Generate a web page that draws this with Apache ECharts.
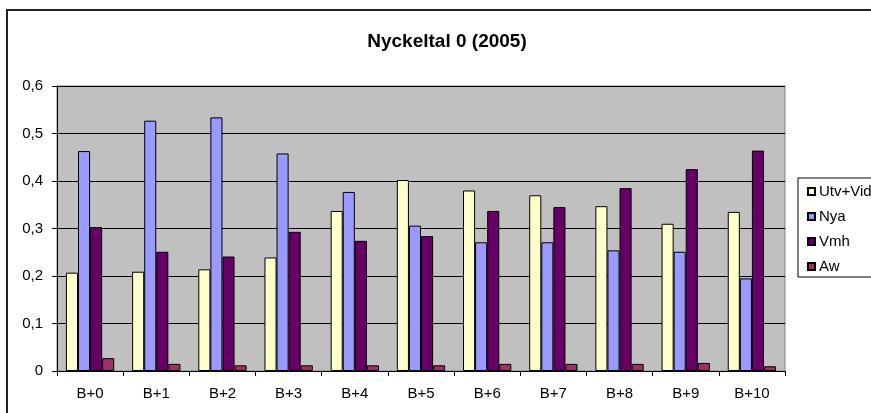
<!DOCTYPE html>
<html>
<head>
<meta charset="utf-8">
<script src="https://cdn.jsdelivr.net/npm/echarts@6/dist/echarts.min.js"></script>
<style>
html,body{margin:0;padding:0;background:#fff;}
#c{width:871px;height:413px;}
</style>
</head>
<body>
<div id="c"></div>
<script>
const title = 'Nyckeltal 0 (2005)';
const categories = ['B+0','B+1','B+2','B+3','B+4','B+5','B+6','B+7','B+8','B+9','B+10'];
const seriesNames = ['Utv+Vid','Nya','Vmh','Aw'];
const utvVid = [0.207,0.209,0.214,0.239,0.337,0.402,0.380,0.370,0.347,0.310,0.335];
const nya    = [0.463,0.527,0.534,0.458,0.377,0.306,0.271,0.271,0.254,0.251,0.195];
const vmh    = [0.303,0.251,0.241,0.293,0.274,0.284,0.337,0.345,0.385,0.425,0.464];
const aw     = [0.027,0.015,0.012,0.012,0.012,0.012,0.015,0.015,0.015,0.017,0.010];
const colors = ['#FFFFCC','#9999FF','#660066','#993366'];
const seriesData = [utvVid, nya, vmh, aw];

const chart = echarts.init(document.getElementById('c'));
const font = 'Liberation Sans, Arial, sans-serif';
chart.setOption({
  animation: false,
  backgroundColor: '#fff',
  textStyle: {fontFamily: font, color: '#000'},
  title: {
    text: title,
    left: 442, top: 27, textAlign: 'center',
    textStyle: {fontFamily: font, fontSize: 19, fontWeight: 'bold', color: '#000'}
  },
  graphic: [{
    type: 'rect', silent: true, z: -1,
    shape: {x: 7, y: 10, width: 1000, height: 1000},
    style: {fill: 'none', stroke: '#222', lineWidth: 2}
  }],
  legend: {
    orient: 'vertical',
    left: 798, top: 178,
    padding: [6, 40, 3, 9],
    borderColor: '#000', borderWidth: 1,
    itemWidth: 7, itemHeight: 7, itemGap: 10,
    icon: 'rect',
    textStyle: {fontFamily: font, fontSize: 15, color: '#000', padding: [0,0,0,-1]},
    data: seriesNames
  },
  grid: {
    left: 57, right: 86, top: 86, bottom: 42,
    show: true, backgroundColor: '#C0C0C0', borderColor: '#808080', borderWidth: 1
  },
  xAxis: {
    type: 'category',
    data: categories,
    axisLine: {lineStyle: {color: '#000', width: 1}},
    axisTick: {show: true, length: 5, lineStyle: {color: '#000'}},
    axisLabel: {fontFamily: font, fontSize: 15, color: '#000', margin: 15}
  },
  yAxis: {
    type: 'value',
    min: 0, max: 0.6, interval: 0.1,
    axisLine: {show: true, lineStyle: {color: '#000'}},
    axisTick: {show: true, length: 5, lineStyle: {color: '#000'}},
    splitLine: {lineStyle: {color: '#000', width: 1}},
    axisLabel: {
      fontFamily: font, fontSize: 15, color: '#000', margin: 14,
      formatter: v => v === 0 ? '0' : v.toFixed(1).replace('.', ',')
    }
  },
  series: seriesNames.map((n, i) => ({
    name: n,
    type: 'bar',
    data: seriesData[i],
    barGap: '0%',
    barCategoryGap: '27%',
    itemStyle: {color: colors[i], borderColor: '#000', borderWidth: 1}
  }))
});
</script>
</body>
</html>
